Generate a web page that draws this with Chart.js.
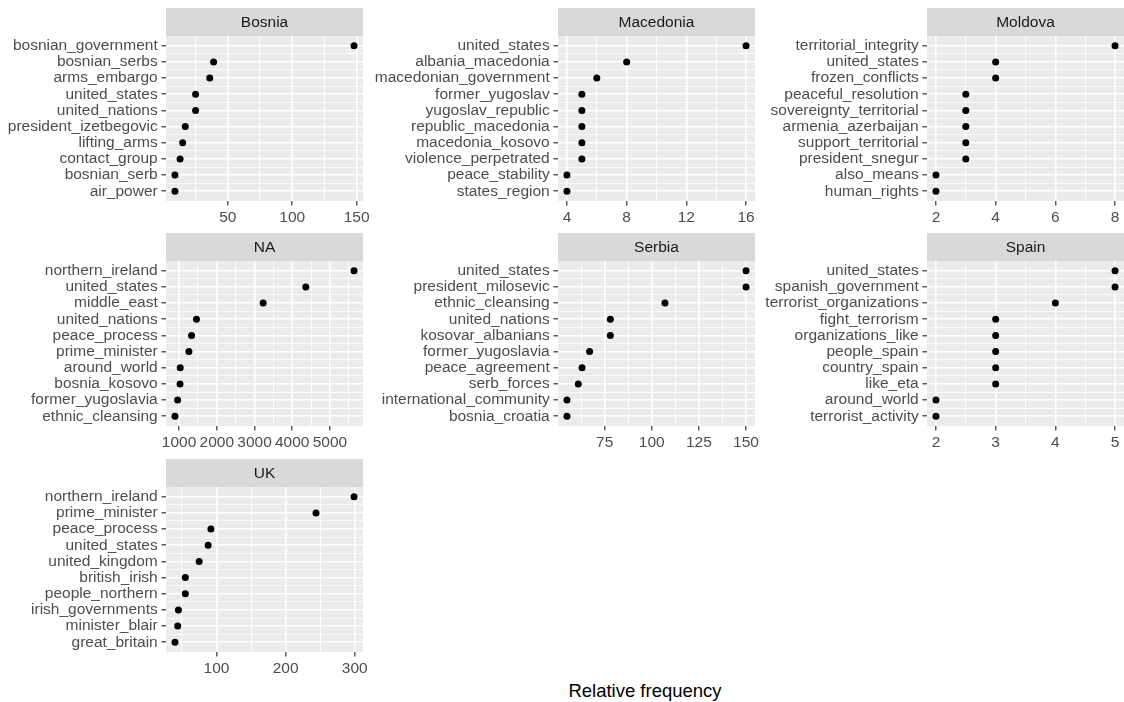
<!DOCTYPE html>
<html>
<head>
<meta charset="utf-8">
<title>Relative frequency of bigrams by country</title>
<script src="https://cdn.jsdelivr.net/npm/chart.js@4/dist/chart.umd.min.js"></script>
<style>
  html, body { margin: 0; padding: 0; background: #ffffff; width: 1124px; height: 702px; overflow: hidden; }
  canvas { position: absolute; }
  #xtitle {
    position: absolute; left: 445px; width: 400px; top: 681px;
    text-align: center; font-family: "Liberation Sans", Arial, sans-serif;
    font-size: 18.5px; line-height: 20px; color: #000000;
  }
</style>
</head>
<body>
<div id="xtitle">Relative frequency</div>
<script>
// ---- data: top bigrams per country, ordered from most to least frequent ----
const bosniaTerms = ['bosnian_government', 'bosnian_serbs', 'arms_embargo', 'united_states', 'united_nations',
  'president_izetbegovic', 'lifting_arms', 'contact_group', 'bosnian_serb', 'air_power'];
const bosniaFreq = [148, 39, 36, 25, 25, 17, 15, 13, 9, 9];
const bosniaBreaks = [50, 100, 150];

const macedoniaTerms = ['united_states', 'albania_macedonia', 'macedonian_government', 'former_yugoslav',
  'yugoslav_republic', 'republic_macedonia', 'macedonia_kosovo', 'violence_perpetrated', 'peace_stability', 'states_region'];
const macedoniaFreq = [16, 8, 6, 5, 5, 5, 5, 5, 4, 4];
const macedoniaBreaks = [4, 8, 12, 16];

const moldovaTerms = ['territorial_integrity', 'united_states', 'frozen_conflicts', 'peaceful_resolution',
  'sovereignty_territorial', 'armenia_azerbaijan', 'support_territorial', 'president_snegur', 'also_means', 'human_rights'];
const moldovaFreq = [8, 4, 4, 3, 3, 3, 3, 3, 2, 2];
const moldovaBreaks = [2, 4, 6, 8];

const naTerms = ['northern_ireland', 'united_states', 'middle_east', 'united_nations', 'peace_process',
  'prime_minister', 'around_world', 'bosnia_kosovo', 'former_yugoslavia', 'ethnic_cleansing'];
const naFreq = [5640, 4360, 3230, 1460, 1330, 1260, 1030, 1025, 960, 890];
const naBreaks = [1000, 2000, 3000, 4000, 5000];

const serbiaTerms = ['united_states', 'president_milosevic', 'ethnic_cleansing', 'united_nations', 'kosovar_albanians',
  'former_yugoslavia', 'peace_agreement', 'serb_forces', 'international_community', 'bosnia_croatia'];
const serbiaFreq = [150, 150, 107, 78, 78, 67, 63, 61, 55, 55];
const serbiaBreaks = [75, 100, 125, 150];

const spainTerms = ['united_states', 'spanish_government', 'terrorist_organizations', 'fight_terrorism',
  'organizations_like', 'people_spain', 'country_spain', 'like_eta', 'around_world', 'terrorist_activity'];
const spainFreq = [5, 5, 4, 3, 3, 3, 3, 3, 2, 2];
const spainBreaks = [2, 3, 4, 5];

const ukTerms = ['northern_ireland', 'prime_minister', 'peace_process', 'united_states', 'united_kingdom',
  'british_irish', 'people_northern', 'irish_governments', 'minister_blair', 'great_britain'];
const ukFreq = [299, 244, 92, 88, 75, 55, 55, 45, 44, 40];
const ukBreaks = [100, 200, 300];

// ---- facet grid layout (3 columns, free scales) ----
const PANEL_LEFT = [166, 558, 927];
const LABEL_W = [166, 188, 177];
const ROW_TOP = [8, 233, 459];
const STRIP_H = 28;
const PANEL_H = 165;
const PANEL_W = 197;
const AXIS_H = 28;
const RIGHT_PAD = 16;
const FONT = '"Liberation Sans", Arial, sans-serif';
const TEXT_SIZE = 15.5;

const facets = [
  { label: 'Bosnia',    terms: bosniaTerms,    freq: bosniaFreq,    breaks: bosniaBreaks,    row: 0, col: 0 },
  { label: 'Macedonia', terms: macedoniaTerms, freq: macedoniaFreq, breaks: macedoniaBreaks, row: 0, col: 1 },
  { label: 'Moldova',   terms: moldovaTerms,   freq: moldovaFreq,   breaks: moldovaBreaks,   row: 0, col: 2 },
  { label: 'NA',        terms: naTerms,        freq: naFreq,        breaks: naBreaks,        row: 1, col: 0 },
  { label: 'Serbia',    terms: serbiaTerms,    freq: serbiaFreq,    breaks: serbiaBreaks,    row: 1, col: 1 },
  { label: 'Spain',     terms: spainTerms,     freq: spainFreq,     breaks: spainBreaks,     row: 1, col: 2 },
  { label: 'UK',        terms: ukTerms,        freq: ukFreq,        breaks: ukBreaks,        row: 2, col: 0 }
];

// grey panel background and the facet strip with its title
const facetPlugin = {
  id: 'facet',
  beforeDraw(chart, args, opts) {
    const { ctx, chartArea: a } = chart;
    ctx.save();
    ctx.fillStyle = '#EBEBEB';
    ctx.fillRect(a.left, a.top, a.right - a.left, a.bottom - a.top);
    ctx.fillStyle = '#D9D9D9';
    ctx.fillRect(a.left, a.top - STRIP_H, a.right - a.left, STRIP_H);
    ctx.fillStyle = '#1A1A1A';
    ctx.font = TEXT_SIZE + 'px ' + FONT;
    ctx.textAlign = 'center';
    ctx.textBaseline = 'middle';
    ctx.fillText(opts.label, (a.left + a.right) / 2, a.top - STRIP_H / 2 + 1);
    ctx.restore();
  }
};

const gridStyle = {
  color: '#FFFFFF',
  lineWidth: c => (c.tick && c.tick.minor ? 0.8 : 1.6),
  tickLength: 4.6,
  tickWidth: 1.2,
  tickColor: c => (c.tick && c.tick.minor ? 'rgba(0,0,0,0)' : '#333333')
};

facets.forEach(f => {
  const labelW = LABEL_W[f.col];
  const canvas = document.createElement('canvas');
  const w = labelW + PANEL_W + RIGHT_PAD;
  const h = STRIP_H + PANEL_H + AXIS_H;
  canvas.width = w; canvas.height = h;
  canvas.style.width = w + 'px'; canvas.style.height = h + 'px';
  canvas.style.left = (PANEL_LEFT[f.col] - labelW) + 'px';
  canvas.style.top = ROW_TOP[f.row] + 'px';
  document.body.appendChild(canvas);

  // continuous x scale with 5% expansion, majors at the breaks and minors halfway
  const lo = Math.min(...f.freq), hi = Math.max(...f.freq);
  const ext = (hi - lo) * 0.05;
  const xmin = lo - ext, xmax = hi + ext;
  const step = f.breaks[1] - f.breaks[0];
  const xTicks = [];
  for (let k = -1; k <= 2 * (f.breaks.length - 1) + 1; k++) {
    const v = f.breaks[0] + k * step / 2;
    if (v >= xmin && v <= xmax) xTicks.push({ value: v, minor: k % 2 !== 0 });
  }

  // discrete y positions with 0.6 expansion
  const n = f.terms.length;
  const yTicks = [];
  for (let k = 0; k <= 2 * (n - 1); k++) yTicks.push({ value: k / 2, minor: k % 2 !== 0 });

  new Chart(canvas, {
    type: 'scatter',
    data: {
      datasets: [{
        data: f.freq.map((v, i) => ({ x: v, y: i })),
        pointRadius: 3.5,
        pointHoverRadius: 3.5,
        pointBackgroundColor: '#000000',
        pointBorderWidth: 0,
        clip: false
      }]
    },
    options: {
      responsive: false,
      animation: false,
      devicePixelRatio: 1,
      layout: { padding: { top: STRIP_H, right: RIGHT_PAD, left: 0, bottom: 0 } },
      events: [],
      plugins: {
        legend: { display: false },
        tooltip: { enabled: false },
        facet: { label: f.label }
      },
      scales: {
        x: {
          type: 'linear',
          min: xmin, max: xmax,
          border: { display: false },
          afterBuildTicks: s => { s.ticks = xTicks.map(t => ({ ...t })); },
          afterFit: s => { s.height = AXIS_H; },
          grid: gridStyle,
          ticks: {
            autoSkip: false, maxRotation: 0, minRotation: 0, padding: 3,
            color: '#4D4D4D', font: { family: FONT, size: TEXT_SIZE },
            callback: (v, i, t) => (t[i].minor ? '' : String(v))
          }
        },
        y: {
          type: 'linear',
          reverse: true,
          min: -0.6, max: n - 1 + 0.6,
          border: { display: false },
          afterBuildTicks: s => { s.ticks = yTicks.map(t => ({ ...t })); },
          afterFit: s => { s.width = labelW; },
          grid: gridStyle,
          ticks: {
            autoSkip: false, padding: 3.7,
            color: '#4D4D4D', font: { family: FONT, size: TEXT_SIZE },
            callback: (v, i, t) => (t[i].minor ? '' : f.terms[Math.round(v)])
          }
        }
      }
    },
    plugins: [facetPlugin]
  });
});
</script>
</body>
</html>
